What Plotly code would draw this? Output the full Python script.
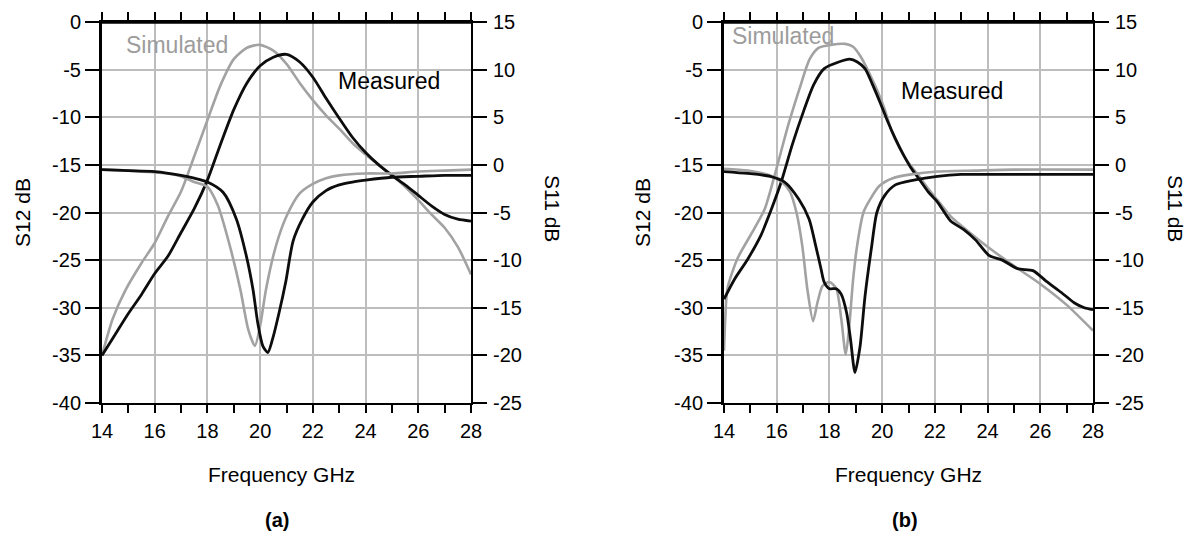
import plotly.graph_objects as go

W, H = 1192, 538
OFF = 8  # page body margin of the html page
FW, FH = W - OFF, H - OFF

# ---------------- Panel (a) ----------------
a_sim_s12_f = [14, 14.2, 14.4, 14.9, 15.5, 16, 16.5, 17, 17.5, 18, 18.5, 19, 19.5, 20, 20.5, 21, 21.5, 22, 22.5, 23, 23.5, 24, 24.5, 25, 25.5, 26, 26.5, 27, 27.5, 28]
a_sim_s12 = [-35, -33, -31.2, -28.1, -25.3, -23.2, -20.4, -17.8, -14.1, -10.3, -6.6, -3.9, -2.7, -2.4, -3.0, -4.4, -6.4, -8.2, -9.8, -11.2, -12.7, -13.9, -15.0, -16.1, -17.3, -18.7, -20.2, -21.6, -23.6, -26.5]

a_meas_s12_f = [14, 14.5, 15, 15.5, 16, 16.5, 17, 17.5, 18, 18.5, 19, 19.5, 20, 20.5, 21, 21.5, 22, 22.5, 23, 23.5, 24, 24.5, 25, 25.5, 26, 26.5, 27, 27.5, 28]
a_meas_s12 = [-35, -32.8, -30.6, -28.6, -26.4, -24.6, -22.1, -19.6, -16.6, -12.8, -9.2, -6.4, -4.6, -3.7, -3.4, -4.2, -5.8, -8.0, -10.1, -12.1, -13.7, -15.0, -16.1, -17.1, -18.2, -19.3, -20.2, -20.7, -20.9]

a_sim_s11_f = [14, 15, 16, 16.5, 17, 17.5, 18, 18.4, 18.85, 19.25, 19.55, 19.8, 20.0, 20.22, 20.6, 21.0, 21.5, 22, 22.5, 23, 24, 25, 26, 27, 28]
a_sim_s11 = [-0.5, -0.6, -0.8, -0.9, -1.2, -1.8, -2.3, -4.3, -8.5, -13.1, -17.3, -19.0, -16.9, -13.1, -8.5, -5.4, -3.0, -2.0, -1.4, -1.1, -0.9, -0.9, -0.7, -0.6, -0.5]

a_meas_s11_f = [14, 15, 16, 17, 17.5, 18, 18.6, 19.1, 19.48, 19.73, 19.91, 20.1, 20.29, 20.47, 20.72, 20.97, 21.25, 21.6, 22, 22.5, 23, 23.5, 24, 25, 26, 27, 28]
a_meas_s11 = [-0.5, -0.6, -0.7, -1.1, -1.4, -1.8, -2.9, -5.7, -9.6, -13.1, -16.6, -19.0, -19.7, -18.3, -15.5, -12.3, -8.0, -5.7, -3.9, -2.7, -2.1, -1.8, -1.6, -1.3, -1.2, -1.1, -1.1]

# ---------------- Panel (b) ----------------
b_sim_s12_f = [14, 14.05, 14.13, 14.5, 15.15, 15.55, 15.95, 16.45, 16.9, 17.25, 17.6, 18.05, 18.6, 18.9, 19.2, 19.5, 19.8, 20.1, 20.35, 20.65, 20.95, 21.4, 21.75, 22.1, 22.6, 23.1, 24, 25, 26, 27, 28]
b_sim_s12 = [-34.5, -31, -28, -24.9, -21.7, -19.6, -15.8, -10.7, -6.7, -3.9, -2.7, -2.4, -2.3, -2.6, -3.7, -5.3, -7.1, -9.2, -11.4, -13.2, -14.6, -16.2, -17.5, -18.7, -20.4, -21.6, -23.6, -25.6, -27.5, -29.7, -32.4]

b_meas_s12_f = [14, 14.4, 14.9, 15.4, 15.75, 16.17, 16.6, 17.04, 17.4, 17.8, 18.35, 18.77, 19.06, 19.35, 19.64, 19.93, 20.22, 20.51, 20.8, 21.09, 21.38, 21.74, 22.1, 22.6, 23.1, 23.55, 24.05, 24.56, 25.14, 25.72, 26.22, 26.8, 27.3, 27.67, 28]
b_meas_s12 = [-29.1, -27, -24.9, -22.4, -20, -16.8, -12.8, -9.2, -6.6, -4.9, -4.2, -3.9, -4.2, -4.9, -6.6, -8.5, -10.5, -12.3, -13.9, -15.3, -16.4, -17.8, -18.9, -20.9, -21.8, -22.9, -24.5, -25.0, -25.9, -26.1, -27.2, -28.4, -29.5, -30.0, -30.2]

b_sim_s11_f = [14, 14.9, 15.75, 16.2, 16.5, 16.75, 16.97, 17.16, 17.38, 17.55, 17.74, 18.0, 18.26, 18.45, 18.62, 18.75, 18.9, 19.05, 19.29, 19.55, 19.9, 20.4, 21.1, 22.1, 23.5, 25, 28]
b_sim_s11 = [-0.4, -0.6, -1.1, -1.8, -2.8, -5.0, -8.5, -13.0, -16.4, -14.4, -12.7, -12.3, -13.0, -16.2, -19.9, -17.0, -12.0, -8.5, -5.0, -3.6, -2.2, -1.4, -1.0, -0.7, -0.6, -0.5, -0.5]

b_meas_s11_f = [14, 14.9, 15.75, 16.3, 16.84, 17.23, 17.48, 17.68, 17.8, 18.0, 18.26, 18.45, 18.65, 18.8, 18.97, 19.16, 19.35, 19.6, 19.8, 20.1, 20.5, 21.2, 22.1, 23, 24, 25, 26, 27, 28]
b_meas_s11 = [-0.7, -0.9, -1.2, -1.8, -3.6, -5.7, -8.5, -10.9, -12.3, -13.0, -13.0, -13.6, -15.5, -18.3, -21.8, -19.1, -13.8, -8.6, -5.0, -3.2, -2.1, -1.6, -1.2, -1.0, -1.0, -1.0, -1.0, -1.0, -1.0]

# ---------------- Axis ticks ----------------
x_ticks = [14, 16, 18, 20, 22, 24, 26, 28]
s12_ticks = [0, -5, -10, -15, -20, -25, -30, -35, -40]
s11_ticks = [15, 10, 5, 0, -5, -10, -15, -20, -25]

SIM_COLOR = "#a2a2a2"
MEAS_COLOR = "#0d0d0d"
GRID_COLOR = "#bdbdbd"
FONT = "Liberation Sans, Arial, sans-serif"

fig = go.Figure()

def add_panel(xa, ya, ya2, sim12f, sim12, meas12f, meas12, sim11f, sim11, meas11f, meas11):
    sm = 0.7
    fig.add_trace(go.Scatter(x=sim12f, y=sim12, xaxis=xa, yaxis=ya, mode="lines",
                             line=dict(color=SIM_COLOR, width=2.6, shape="spline", smoothing=sm), showlegend=False))
    fig.add_trace(go.Scatter(x=sim11f, y=sim11, xaxis=xa, yaxis=ya2, mode="lines",
                             line=dict(color=SIM_COLOR, width=2.6, shape="spline", smoothing=sm), showlegend=False))
    fig.add_trace(go.Scatter(x=meas12f, y=meas12, xaxis=xa, yaxis=ya, mode="lines",
                             line=dict(color=MEAS_COLOR, width=2.8, shape="spline", smoothing=sm), showlegend=False))
    fig.add_trace(go.Scatter(x=meas11f, y=meas11, xaxis=xa, yaxis=ya2, mode="lines",
                             line=dict(color=MEAS_COLOR, width=2.8, shape="spline", smoothing=sm), showlegend=False))

add_panel("x", "y", "y3", a_sim_s12_f, a_sim_s12, a_meas_s12_f, a_meas_s12, a_sim_s11_f, a_sim_s11, a_meas_s11_f, a_meas_s11)
add_panel("x2", "y2", "y4", b_sim_s12_f, b_sim_s12, b_meas_s12_f, b_meas_s12, b_sim_s11_f, b_sim_s11, b_meas_s11_f, b_meas_s11)

def px_x(px):
    return (px - OFF) / FW

def px_y(py):
    return 1 - (py - OFF) / FH

ydom = [px_y(403), px_y(22)]
xdom_a = [px_x(102), px_x(471)]
xdom_b = [px_x(724), px_x(1093)]

tickfont = dict(family=FONT, size=20, color="black")

def xaxis_cfg(dom, anchor):
    return dict(domain=dom, anchor=anchor, range=[14, 28], tickmode="array", tickvals=x_ticks,
                ticktext=[str(v) for v in x_ticks], ticks="outside", ticklen=8, tickwidth=2, tickcolor="black",
                showline=True, linewidth=2, linecolor="black", mirror="all", showgrid=True, automargin=False,
                gridcolor=GRID_COLOR, gridwidth=2, zeroline=False, tickfont=tickfont, ticklabelstandoff=1,
                minor=dict(dtick=1, ticks="outside", ticklen=8, tickwidth=2, tickcolor="black", showgrid=False))

def yleft_cfg(dom, anchor):
    return dict(domain=dom, anchor=anchor, range=[-40, 0], tickmode="array", tickvals=s12_ticks,
                ticktext=[str(v) for v in s12_ticks], ticks="outside", ticklen=14, tickwidth=2, tickcolor="black",
                showline=True, linewidth=3, linecolor="black", mirror=False, showgrid=True, automargin=False,
                gridcolor=GRID_COLOR, gridwidth=2, zeroline=False, tickfont=tickfont, ticklabelstandoff=0)

def yright_cfg(overlay, anchor):
    return dict(overlaying=overlay, anchor=anchor, side="right", range=[-25, 15], tickmode="array",
                tickvals=s11_ticks, ticktext=[str(v) for v in s11_ticks], ticks="outside", ticklen=14,
                tickwidth=2, tickcolor="black", showline=True, linewidth=2, linecolor="black", automargin=False,
                showgrid=False, zeroline=False, tickfont=tickfont, ticklabelstandoff=2)

fig.update_layout(
    template="none",
    width=FW, height=FH, margin=dict(l=0, r=0, t=0, b=0, pad=0), autosize=False,
    paper_bgcolor="white", plot_bgcolor="white",
    font=dict(family=FONT, color="black"),
    xaxis=xaxis_cfg(xdom_a, "y"), yaxis=yleft_cfg(ydom, "x"), yaxis3=yright_cfg("y", "x"),
    xaxis2=xaxis_cfg(xdom_b, "y2"), yaxis2=yleft_cfg(ydom, "x2"), yaxis4=yright_cfg("y2", "x2"),
)

# top border line of each panel frame (paper-referenced so it is not clipped)
for dom in (xdom_a, xdom_b):
    fig.add_shape(type="line", xref="paper", yref="paper", x0=dom[0], x1=dom[1], y0=ydom[1], y1=ydom[1],
                  line=dict(color="black", width=3.5), layer="above")

def ann(text, px, py, size=21, color="black", angle=0, bold=False):
    t = f"<b>{text}</b>" if bold else text
    fig.add_annotation(text=t, x=px_x(px), y=px_y(py), xref="paper", yref="paper", showarrow=False,
                       xanchor="center", yanchor="middle", textangle=angle,
                       font=dict(family=FONT, size=size, color=color))

# panel (a) texts
ann("S12 dB", 22, 213, angle=-90)
ann("S11 dB", 553, 208, angle=90)
ann("Frequency GHz", 281, 474)
ann("(a)", 277, 520, size=20, bold=True)
ann("Simulated", 177, 45, size=23, color="#9c9c9c")
ann("Measured", 389, 81, size=23)

# panel (b) texts
ann("S12 dB", 642, 213, angle=-90)
ann("S11 dB", 1176, 208, angle=90)
ann("Frequency GHz", 908, 474)
ann("(b)", 905, 520, size=20, bold=True)
ann("Simulated", 783, 36, size=23, color="#9c9c9c")
ann("Measured", 952, 91, size=23)

fig.write_html("out.html")
